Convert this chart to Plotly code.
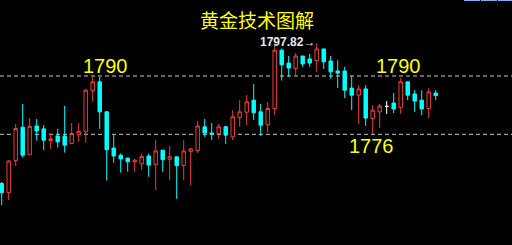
import plotly.graph_objects as go

# ---- data ----
opens = [1764.2, 1762.0, 1769.7, 1777.7, 1771.1, 1778.0, 1777.3, 1774.5, 1775.6, 1775.6,
         1773.8, 1775.9, 1776.6, 1786.5, 1788.6, 1781.4, 1772.7, 1771.0, 1770.3, 1769.4,
         1768.9, 1770.8, 1768.7, 1772.2, 1770.0, 1770.6, 1768.5, 1771.9, 1772.1, 1777.8,
         1776.3, 1776.2, 1777.8, 1775.4, 1780.0, 1781.3, 1784.2, 1781.4, 1778.3, 1782.2,
         1796.2, 1793.1, 1791.8, 1794.8, 1794.1, 1793.7, 1796.5, 1793.6, 1791.2, 1791.2,
         1787.1, 1785.4, 1786.9, 1779.8, 1781.4, 1782.7, 1783.5, 1782.4, 1788.6, 1785.7,
         1784.2, 1782.2, 1785.9]
highs = [1764.6, 1769.8, 1778.5, 1783.3, 1779.9, 1779.7, 1778.2, 1776.2, 1777.3, 1782.8,
         1778.7, 1778.7, 1786.9, 1789.8, 1789.8, 1781.6, 1775.9, 1771.4, 1770.3, 1770.1,
         1771.4, 1771.4, 1774.6, 1772.2, 1773.2, 1770.6, 1774.6, 1772.7, 1779.2, 1779.7,
         1778.7, 1778.5, 1778.0, 1781.8, 1784.2, 1785.4, 1788.1, 1783.3, 1783.8, 1797.4,
         1796.6, 1794.8, 1795.5, 1794.8, 1795.3, 1797.82, 1796.5, 1794.8, 1793.8, 1792.2,
         1790.0, 1787.8, 1787.8, 1783.0, 1783.3, 1784.0, 1785.9, 1789.5, 1788.6, 1786.6,
         1786.6, 1787.1, 1786.6]
lows = [1759.0, 1760.2, 1768.4, 1770.4, 1771.1, 1774.5, 1772.2, 1772.5, 1772.8, 1771.6,
        1773.8, 1774.2, 1774.0, 1783.8, 1777.3, 1764.9, 1769.2, 1766.8, 1767.0, 1767.0,
        1767.4, 1765.8, 1762.6, 1767.0, 1765.0, 1760.5, 1765.0, 1763.8, 1771.5, 1775.4,
        1774.6, 1774.9, 1773.7, 1774.6, 1777.8, 1778.2, 1779.4, 1775.6, 1776.4, 1780.6,
        1788.9, 1789.8, 1790.0, 1792.2, 1792.2, 1791.0, 1791.7, 1789.3, 1787.1, 1784.7,
        1781.8, 1778.5, 1778.0, 1776.1, 1777.5, 1780.9, 1781.1, 1780.9, 1784.2, 1781.4,
        1780.6, 1779.9, 1784.2]
closes = [1762.0, 1769.6, 1777.4, 1771.0, 1777.9, 1776.8, 1774.6, 1774.9, 1774.2, 1773.4,
          1776.2, 1776.7, 1786.6, 1788.6, 1781.4, 1772.3, 1770.8, 1770.1, 1769.4, 1769.8,
          1770.7, 1768.6, 1772.0, 1769.9, 1770.6, 1768.5, 1772.0, 1772.5, 1778.0, 1776.3,
          1776.1, 1777.8, 1775.8, 1780.2, 1781.4, 1783.8, 1781.2, 1778.2, 1782.2, 1796.2,
          1792.7, 1791.9, 1794.8, 1792.9, 1793.1, 1796.5, 1793.4, 1791.0, 1790.7, 1786.6,
          1785.4, 1786.9, 1779.9, 1781.8, 1782.8, 1782.7, 1782.1, 1788.6, 1785.4, 1784.0,
          1782.1, 1786.2, 1785.3]
doji_index = 55          # the white (unchanged) bar
levels = [1790, 1776]
level_labels = ["1790", "1790", "1776"]
high_label = "1797.82\u2192"
title_text = "黄金技术图解"

RED = "#f03c3c"
CYAN = "#00ffff"

idx = list(range(len(opens)))
main_idx = [i for i in idx if i != doji_index]

fig = go.Figure()
fig.add_trace(go.Candlestick(
    x=main_idx,
    open=[opens[i] for i in main_idx],
    high=[highs[i] for i in main_idx],
    low=[lows[i] for i in main_idx],
    close=[closes[i] for i in main_idx],
    increasing=dict(line=dict(color=RED, width=1), fillcolor="#000000"),
    decreasing=dict(line=dict(color=CYAN, width=1), fillcolor=CYAN),
    whiskerwidth=0, showlegend=False, hoverinfo="skip",
))
fig.add_trace(go.Candlestick(
    x=[doji_index], open=[opens[doji_index]], high=[highs[doji_index]],
    low=[lows[doji_index]], close=[closes[doji_index]],
    increasing=dict(line=dict(color="#ffffff", width=1), fillcolor="#ffffff"),
    decreasing=dict(line=dict(color="#ffffff", width=1), fillcolor="#ffffff"),
    whiskerwidth=0, showlegend=False, hoverinfo="skip",
))

# dashed level lines
for lv in levels:
    fig.add_shape(type="line", xref="paper", x0=0, x1=1, yref="y", y0=lv, y1=lv,
                  line=dict(color="#c8c8c8", width=1, dash="4px,3px"), layer="below")

# small blue strip at top right
for a, b in [(464, 480), (481, 497), (498, 512)]:
    fig.add_shape(type="line", xref="paper", yref="paper", x0=a / 512, x1=b / 512,
                  y0=0.998, y1=0.998, line=dict(color="#7fb2f0", width=1))

yellow = "#ffff00"
fig.add_annotation(text=title_text, xref="paper", yref="paper", x=257 / 512, y=1 - 19 / 245,
                   showarrow=False, font=dict(family="Noto Sans CJK SC", size=19, color=yellow),
                   xanchor="center", yanchor="middle")
label_pos = [(105, 66), (398, 66), (371, 146)]
for t, (px, py) in zip(level_labels, label_pos):
    fig.add_annotation(text=t, xref="paper", yref="paper", x=px / 512, y=1 - py / 245,
                       showarrow=False, font=dict(family="Liberation Sans, Arial", size=20, color=yellow),
                       xanchor="center", yanchor="middle")

hi_i = max(idx, key=lambda i: highs[i])
fig.add_annotation(text="<b>" + high_label + "</b>", x=hi_i + 0.1, y=highs[hi_i], xref="x", yref="y",
                   showarrow=False, xanchor="right", yanchor="middle", yshift=1,
                   font=dict(family="Liberation Sans, Arial", size=12, color="#e8e8e8"))

fig.update_layout(
    width=512, height=245, margin=dict(l=0, r=0, t=0, b=0),
    paper_bgcolor="#000000", plot_bgcolor="#000000",
    xaxis=dict(range=[-0.243, -0.243 + 512 / 7], visible=False, rangeslider=dict(visible=False),
               fixedrange=True),
    yaxis=dict(range=[1749.42, 1808.25], visible=False, fixedrange=True),
    showlegend=False,
)
fig.write_html("out.html")
